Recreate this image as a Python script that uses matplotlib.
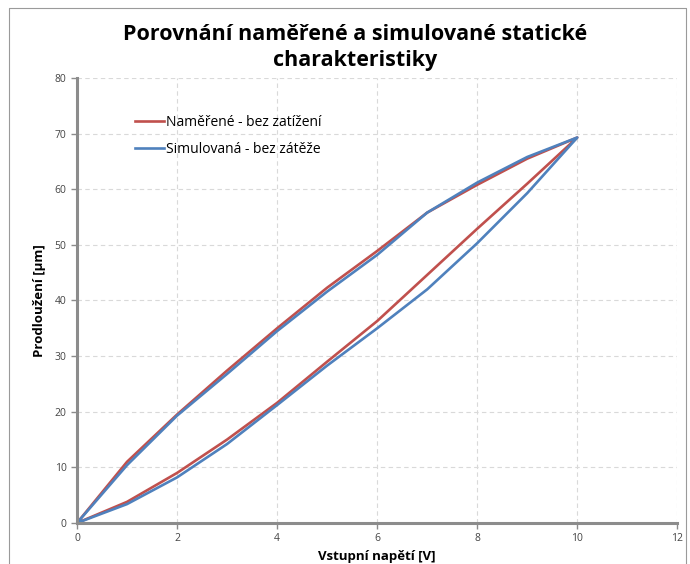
import matplotlib.pyplot as plt
import matplotlib

matplotlib.rcParams['font.family'] = ['Open Sans', 'DejaVu Sans']

# napětí: nahoru 0..10 V a zpět dolů 10..0 V
napeti = [0, 1, 2, 3, 4, 5, 6, 7, 8, 9, 10, 9, 8, 7, 6, 5, 4, 3, 2, 1, 0]
namerene = [0, 3.8, 9.0, 15.0, 21.6, 29.0, 36.3, 44.6, 52.9, 61.0, 69.3,
            65.5, 60.8, 55.8, 48.9, 42.3, 35.0, 27.4, 19.5, 11.0, 0]
simulovane = [0, 3.4, 8.2, 14.2, 21.2, 28.3, 35.0, 42.0, 50.3, 59.3, 69.3,
              65.8, 61.2, 55.8, 48.2, 41.6, 34.5, 26.8, 19.3, 10.4, 0]

fig = plt.figure(figsize=(6.9, 5.64), dpi=100)
ax = fig.add_axes([0.1116, 0.0727, 0.870, 0.789])

ax.plot(napeti, namerene, color='#C0504D', linewidth=1.9, label='Naměřené - bez zatížení')
ax.plot(napeti, simulovane, color='#4F81BD', linewidth=1.9, label='Simulovaná - bez zátěže')

ax.set_xlim(0, 12)
ax.set_ylim(0, 80)
ax.set_xticks(range(0, 13, 2))
ax.set_yticks(range(0, 81, 10))
ax.grid(True, color='#d9d9d9', linestyle=(0, (4, 3)), linewidth=0.8)
ax.set_axisbelow(True)

for s in ['top', 'right']:
    ax.spines[s].set_visible(False)
for s in ['left', 'bottom']:
    ax.spines[s].set_color('#8c8c8c')
    ax.spines[s].set_linewidth(2.2)
ax.tick_params(colors='#8c8c8c', labelcolor='#444444', labelsize=7.5, length=4, width=1)

ax.set_xlabel('Vstupní napětí [V]', fontsize=9.5, fontweight='bold', labelpad=4)
ax.set_ylabel('Prodloužení [µm]', fontsize=9.5, fontweight='bold', labelpad=6)

fig.text(0.515, 0.916, 'Porovnání naměřené a simulované statické\ncharakteristiky',
         ha='center', va='center', fontsize=15.5, fontweight='bold', linespacing=1.3)

ax.legend(loc='upper left', bbox_to_anchor=(0.075, 0.945), frameon=False, fontsize=10,
          handlelength=2.1, handletextpad=0.15, labelspacing=0.85)

# rámeček grafu
fig.add_artist(plt.Line2D([0.013, 0.013, 0.994, 0.994], [0.0, 0.986, 0.986, 0.0],
                          transform=fig.transFigure, color='#9a9a9a', linewidth=0.8))

plt.savefig('out.png', dpi=100)
